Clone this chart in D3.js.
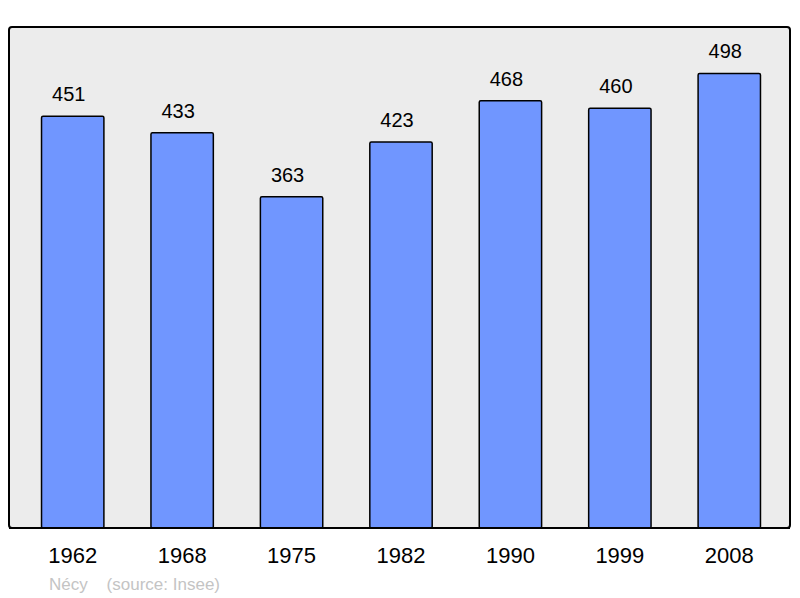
<!DOCTYPE html>
<html>
<head>
<meta charset="utf-8">
<script src="https://cdn.jsdelivr.net/npm/d3@7"></script>
<style>
  body { margin: 0; background: #fff; }
  text { font-family: "Liberation Sans", Arial, sans-serif; }
</style>
</head>
<body>
<svg id="chart"></svg>
<script>
// population by census year
var years = ["1962", "1968", "1975", "1982", "1990", "1999", "2008"];
var population = [451, 433, 363, 423, 468, 460, 498];
var commune = "Nécy";
var source = "(source: Insee)";

var svgWidth = 800, svgHeight = 598;
var frame = { left: 9, top: 27, right: 790, bottom: 528 };

var svg = d3.select('#chart')
    .attr("width", svgWidth)
    .attr("height", svgHeight);

// grey plot box
svg.append("rect")
    .attr("x", frame.left)
    .attr("y", frame.top)
    .attr("width", frame.right - frame.left)
    .attr("height", frame.bottom - frame.top)
    .attr("rx", 3)
    .attr("fill", "#ececec")
    .attr("stroke", "#000")
    .attr("stroke-width", 2);

var xScale = d3.scaleBand()
    .domain(years)
    .range([18, 784])
    .paddingInner(0.43)
    .paddingOuter(0.215);

var yScale = d3.scaleLinear()
    .domain([0, 550])
    .range([frame.bottom, 26]);

svg.selectAll("rect.bar")
    .data(population)
    .enter()
    .append("rect")
    .attr("class", "bar")
    .attr("x", function(d, i) { return xScale(years[i]); })
    .attr("y", function(d) { return yScale(d); })
    .attr("width", xScale.bandwidth())
    .attr("height", function(d) { return frame.bottom - yScale(d); })
    .attr("rx", 1.5)
    .attr("fill", "#7096ff")
    .attr("stroke", "#000")
    .attr("stroke-width", 1.5);

// value labels above each bar (sit a little left of centre, as in the original)
svg.selectAll("text.val")
    .data(population)
    .enter()
    .append("text")
    .attr("class", "val")
    .attr("x", function(d, i) { return xScale(years[i]) + xScale.bandwidth() / 2 - 4; })
    .attr("y", function(d) { return yScale(d) - 15; })
    .attr("text-anchor", "middle")
    .attr("font-size", 20)
    .attr("fill", "#000")
    .text(function(d) { return d; });

// year axis, no lines
var xAxis = svg.append("g")
    .attr("transform", "translate(0," + frame.bottom + ")")
    .call(d3.axisBottom(xScale).tickSize(0).tickPadding(19));
xAxis.select(".domain").remove();
xAxis.selectAll("text")
    .attr("font-size", 22)
    .attr("font-family", "Liberation Sans, Arial, sans-serif")
    .attr("fill", "#000");

// frame drawn on top again so bar bottoms sit under the border
svg.append("line")
    .attr("x1", frame.left).attr("x2", frame.right)
    .attr("y1", frame.bottom).attr("y2", frame.bottom)
    .attr("stroke", "#000").attr("stroke-width", 2);

svg.append("text")
    .attr("x", 49)
    .attr("y", 590)
    .attr("font-size", 17)
    .attr("fill", "#c4c4c4")
    .attr("xml:space", "preserve")
    .text(commune + "    " + source);
</script>
</body>
</html>
